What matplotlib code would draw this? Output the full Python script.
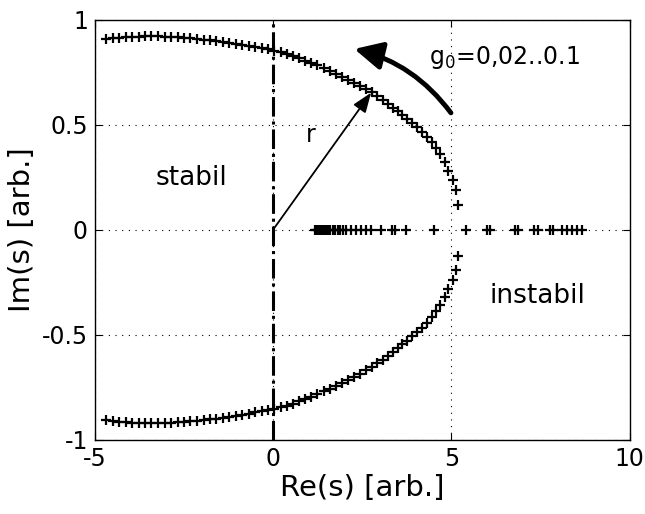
import numpy as np
import matplotlib
matplotlib.use("Agg")
import matplotlib.pyplot as plt
from matplotlib.patches import FancyArrowPatch

# root locus values
re_upper = [-4.68, -4.49, -4.31, -4.13, -3.95, -3.77, -3.59, -3.41, -3.22, -3.04,
            -2.86, -2.68, -2.50, -2.32, -2.13, -1.95, -1.77, -1.59, -1.41, -1.23,
            -1.05, -0.86, -0.68, -0.50, -0.32, -0.14, 0.04, 0.21, 0.39, 0.56,
            0.73, 0.90, 1.07, 1.24, 1.42, 1.59, 1.76, 1.93, 2.10, 2.27,
            2.44, 2.61, 2.77, 2.93, 3.08, 3.23, 3.37, 3.50, 3.63, 3.77,
            3.90, 4.03, 4.17, 4.31, 4.45, 4.58, 4.69, 4.81, 4.92, 5.04,
            5.12, 5.19]
im_upper = [0.908, 0.911, 0.914, 0.916, 0.918, 0.919, 0.920, 0.920, 0.920, 0.919,
            0.918, 0.916, 0.914, 0.911, 0.908, 0.905, 0.902, 0.898, 0.894, 0.890,
            0.885, 0.880, 0.875, 0.869, 0.864, 0.858, 0.852, 0.845, 0.836, 0.827,
            0.816, 0.805, 0.794, 0.782, 0.769, 0.756, 0.743, 0.729, 0.714, 0.699,
            0.684, 0.669, 0.653, 0.636, 0.619, 0.600, 0.581, 0.563, 0.545, 0.527,
            0.507, 0.487, 0.466, 0.443, 0.417, 0.388, 0.358, 0.322, 0.280, 0.238,
            0.188, 0.120]

re_lower = [-4.68, -4.49, -4.31, -4.13, -3.95, -3.77, -3.59, -3.41, -3.22, -3.04,
            -2.86, -2.68, -2.50, -2.32, -2.13, -1.95, -1.77, -1.59, -1.41, -1.23,
            -1.05, -0.86, -0.68, -0.50, -0.32, -0.14, 0.04, 0.21, 0.39, 0.56,
            0.73, 0.90, 1.07, 1.24, 1.42, 1.59, 1.76, 1.93, 2.10, 2.27,
            2.44, 2.61, 2.77, 2.93, 3.08, 3.23, 3.37, 3.50, 3.63, 3.77,
            3.90, 4.03, 4.17, 4.31, 4.45, 4.58, 4.69, 4.81, 4.92, 5.04,
            5.12, 5.20]
im_lower = [-0.906, -0.910, -0.913, -0.915, -0.917, -0.918, -0.919, -0.920, -0.920, -0.919,
            -0.918, -0.916, -0.914, -0.911, -0.908, -0.905, -0.902, -0.898, -0.894, -0.890,
            -0.885, -0.880, -0.875, -0.869, -0.864, -0.858, -0.853, -0.845, -0.836, -0.827,
            -0.816, -0.805, -0.794, -0.782, -0.769, -0.756, -0.743, -0.729, -0.714, -0.699,
            -0.684, -0.669, -0.653, -0.636, -0.619, -0.600, -0.581, -0.563, -0.545, -0.527,
            -0.507, -0.487, -0.466, -0.443, -0.417, -0.388, -0.358, -0.322, -0.280, -0.238,
            -0.190, -0.124]

# real roots after the split
re_axis = [1.17, 1.21, 1.26, 1.31, 1.36, 1.43, 1.49, 1.55, 1.61, 1.67,
           1.74, 1.81, 1.88, 1.96, 2.04, 2.18, 2.32, 2.46, 2.60, 2.75,
           3.03, 3.33, 3.43, 3.74, 4.52, 5.40, 5.99, 6.10, 6.78, 6.88,
           7.31, 7.42, 7.76, 7.85, 8.11, 8.26, 8.40, 8.54, 8.66]
im_axis = np.zeros(len(re_axis))

x_ticks = [-5, 0, 5, 10]
y_ticks = [-1, -0.5, 0, 0.5, 1]

plt.rcParams['font.family'] = 'DejaVu Sans'

fig = plt.figure(figsize=(6.45, 5.14), dpi=100)
ax = fig.add_axes([0.147, 0.144, 0.829, 0.818])

mk = dict(ls='none', marker='+', color='k', ms=6.5, mew=1.6)
ax.plot(re_upper, im_upper, **mk)
ax.plot(re_lower, im_lower, **mk)
ax.plot(re_axis, im_axis, **mk)

# stability border
ax.axvline(0, color='k', ls='-.', lw=2.2, zorder=3)

ax.set_xlim(-5, 10)
ax.set_ylim(-1, 1)
ax.set_xticks(x_ticks)
ax.set_yticks(y_ticks)
ax.set_xticklabels(['-5', '0', '5', '10'])
ax.set_yticklabels(['-1', '-0.5', '0', '0.5', '1'])
ax.grid(True, color='k', ls=(0, (1, 5)), lw=0.8)
ax.tick_params(direction='in', length=5, top=True, right=True, labelsize=17, pad=5)
for sp in ax.spines.values():
    sp.set_linewidth(1.0)

ax.set_xlabel('Re(s) [arb.]', fontsize=21, labelpad=2)
ax.set_ylabel('Im(s) [arb.]', fontsize=21, labelpad=4)

# radius arrow
ax.annotate('', xy=(2.75, 0.652), xytext=(0, 0),
            arrowprops=dict(arrowstyle='-|>,head_length=0.8,head_width=0.3',
                            color='k', lw=1.3, mutation_scale=15,
                            shrinkA=0, shrinkB=0))
ax.text(1.06, 0.45, 'r', fontsize=17, ha='center', va='center')

# direction of increasing g0
arr = FancyArrowPatch((4.99, 0.556), (2.28, 0.86),
                      connectionstyle='arc3,rad=0.18',
                      arrowstyle='-|>,head_length=1.2,head_width=0.6',
                      mutation_scale=14, lw=3.5, color='k',
                      shrinkA=0, shrinkB=0)
ax.add_patch(arr)
ax.text(4.37, 0.82, 'g$_0$=0,02..0.1', fontsize=17, ha='left', va='center')

ax.text(-2.3, 0.245, 'stabil', fontsize=19, ha='center', va='center')
ax.text(7.42, -0.315, 'instabil', fontsize=19, ha='center', va='center')

fig.savefig('out.png', dpi=100)
